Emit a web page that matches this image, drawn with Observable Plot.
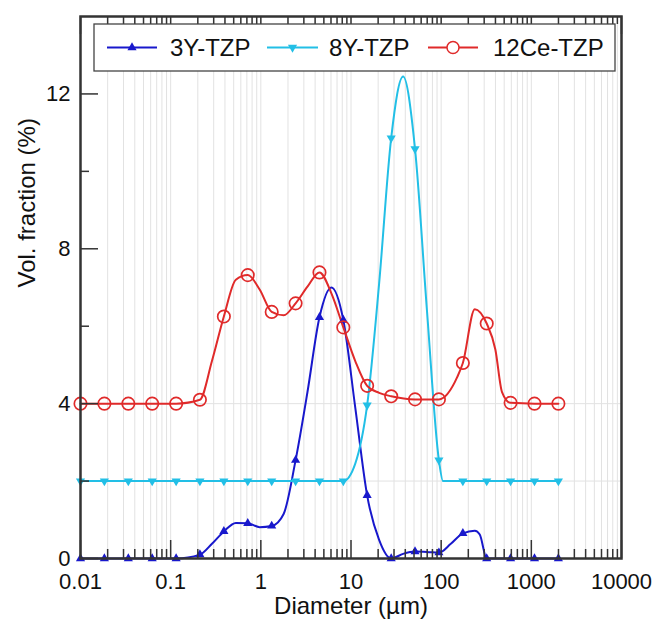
<!DOCTYPE html>
<html><head><meta charset="utf-8">
<script src="https://cdn.jsdelivr.net/npm/d3@7"></script>
<script src="https://cdn.jsdelivr.net/npm/@observablehq/plot@0.6"></script>
<style>
html,body{margin:0;padding:0;background:#fff;}
#chart{width:656px;height:621px;position:relative;}
</style></head><body><div id="chart"></div>
<script>
// ---- data ----
const seriesNames = ["3Y-TZP", "8Y-TZP", "12Ce-TZP"];
const diameters = [0.01, 0.0184, 0.0339, 0.0624, 0.115, 0.211, 0.389, 0.716, 1.32, 2.43, 4.47, 8.22, 15.1, 27.9, 51.3, 94.4, 174, 320, 589, 1084, 1995];
const y3Y   = [0, 0, 0, 0, 0, 0.1, 0.70, 0.91, 0.84, 2.54, 6.23, 6.16, 1.63, 0.0, 0.18, 0.15, 0.65, 0.0, 0, 0, 0];
const y8Y   = [2, 2, 2, 2, 2, 2, 2, 2, 2, 2, 2, 2, 3.96, 10.86, 10.58, 2.54, 2, 2, 2, 2, 2];
const y12Ce = [4, 4, 4, 4, 4, 4.1, 6.25, 7.32, 6.37, 6.59, 7.39, 5.97, 4.46, 4.19, 4.11, 4.11, 5.05, 6.07, 4.02, 4, 4];
// extra points on the drawn curves between the markers
const curve3Yx   = [0.287, 0.528, 0.97, 1.79, 3.29, 6.06, 11.15, 20.5, 37.8, 69.6, 128, 236, 268];
const curve3Yy   = [0.38, 0.92, 0.81, 1.15, 4.3, 7.0, 3.9, 0.48, 0.12, 0.17, 0.38, 0.72, 0.62];
const curve8Yx   = [11.15, 20.5, 37.8, 69.6, 105];
const curve8Yy   = [2.45, 7.1, 12.45, 6.4, 2.0];
const curve12Cex = [0.287, 0.528, 0.97, 1.79, 3.29, 6.06, 11.15, 20.5, 151, 236, 399, 473];
const curve12Cey = [5.1, 7.2, 6.95, 6.28, 7.02, 6.85, 5.1, 4.28, 4.69, 6.44, 5.4, 4.3];
// axes
const xMajor = [0.01, 0.1, 1, 10, 100, 1000, 10000];
const xTickLabels = ["0.01", "0.1", "1", "10", "100", "1000", "10000"];
const xMinorSteps = [2, 3, 4, 5, 6, 7, 8, 9];
const yMajor = [0, 4, 8, 12];
const yTickLabels = ["0", "4", "8", "12"];
const yMinor = [2, 6, 10];
const yGrid = [2, 4];
const xTitle = "Diameter (µm)";
const yTitle = "Vol. fraction (%)";

// ---- layout / style ----
const W = 656, H = 621, mL = 80, mR = 35, mT = 16, mB = 63;
const plotW = W - mL - mR, plotH = H - mT - mB;
const FONT = "'Liberation Sans', Arial, Helvetica, sans-serif";
const C3 = "#1818cc", C8 = "#22bfe6", C12 = "#e02a2a", AX = "#333";

const xMinor = xMajor.slice(0, -1).flatMap(d => xMinorSteps.map(k => d * k));
const xGrid = xMajor.concat(xMinor);

const pts = (name, xs, ys) => xs.map((x, i) => ({name, x, y: ys[i]}));
const m3Y = pts(seriesNames[0], diameters, y3Y);
const m8Y = pts(seriesNames[1], diameters, y8Y);
const m12 = pts(seriesNames[2], diameters, y12Ce);
const l3Y = m3Y.concat(pts(seriesNames[0], curve3Yx, curve3Yy)).sort((a, b) => a.x - b.x);
const l8Y = m8Y.concat(pts(seriesNames[1], curve8Yx, curve8Yy)).sort((a, b) => a.x - b.x);
const l12 = m12.concat(pts(seriesNames[2], curve12Cex, curve12Cey)).sort((a, b) => a.x - b.x);

const s3 = Math.sqrt(3);
const triUp = {draw(ctx, size) { const y = Math.sqrt(size / (s3 * 3)); ctx.moveTo(0, -2 * y); ctx.lineTo(s3 * y, y); ctx.lineTo(-s3 * y, y); ctx.closePath(); }};
const triDown = {draw(ctx, size) { const y = Math.sqrt(size / (s3 * 3)); ctx.moveTo(0, 2 * y); ctx.lineTo(s3 * y, -y); ctx.lineTo(-s3 * y, -y); ctx.closePath(); }};

const chart = Plot.plot({
  width: W, height: H,
  marginLeft: mL, marginRight: mR, marginTop: mT, marginBottom: mB,
  style: {fontFamily: FONT, background: "#fff", overflow: "visible", color: "#111"},
  x: {type: "log", domain: [0.01, 10000], axis: null},
  y: {domain: [0, 14], axis: null},
  marks: [
    Plot.ruleX(xGrid, {x: d => d, stroke: "#e2e2e2", strokeWidth: 1}),
    Plot.ruleY(yGrid, {y: d => d, stroke: "#e2e2e2", strokeWidth: 1}),
    Plot.line(l3Y, {x: "x", y: "y", stroke: C3, strokeWidth: 2, curve: "monotone-x"}),
    Plot.line(l8Y, {x: "x", y: "y", stroke: C8, strokeWidth: 2, curve: "monotone-x"}),
    Plot.line(l12, {x: "x", y: "y", stroke: C12, strokeWidth: 2, curve: "monotone-x"}),
    Plot.dot(m3Y, {x: "x", y: "y", symbol: triUp, r: 3.4, fill: C3, stroke: "none"}),
    Plot.dot(m8Y, {x: "x", y: "y", symbol: triDown, r: 3.4, fill: C8, stroke: "none"}),
    Plot.dot(m12, {x: "x", y: "y", r: 6.2, fill: "none", stroke: C12, strokeWidth: 1.7}),
    // inward ticks
    Plot.ruleX(xMajor, {x: d => d, stroke: AX, strokeWidth: 1.5, insetTop: plotH - 18}),
    Plot.ruleX(xMinor, {x: d => d, stroke: AX, strokeWidth: 1.5, insetTop: plotH - 9}),
    Plot.ruleX(xMajor, {x: d => d, stroke: AX, strokeWidth: 1.5, insetBottom: plotH - 18}),
    Plot.ruleX(xMinor, {x: d => d, stroke: AX, strokeWidth: 1.5, insetBottom: plotH - 8}),
    Plot.ruleY(yMajor, {y: d => d, stroke: AX, strokeWidth: 1.5, insetRight: plotW - 18}),
    Plot.ruleY(yMinor, {y: d => d, stroke: AX, strokeWidth: 1.5, insetRight: plotW - 9}),
    Plot.frame({stroke: AX, strokeWidth: 2.5}),
    // tick labels
    Plot.text(xMajor, {x: d => d, frameAnchor: "bottom", dy: 15, lineAnchor: "top", text: (d, i) => xTickLabels[i], fontSize: 22, fill: "#111"}),
    Plot.text(yMajor, {y: d => d, frameAnchor: "left", dx: -10, textAnchor: "end", text: (d, i) => yTickLabels[i], fontSize: 22, fill: "#111"}),
    // titles
    Plot.text([xTitle], {frameAnchor: "bottom", dy: 48, lineAnchor: "middle", text: d => d, fontSize: 24, fill: "#111"}),
    Plot.text([yTitle], {frameAnchor: "left", dx: -53, rotate: -90, lineAnchor: "middle", text: d => d, fontSize: 24, fill: "#111"})
  ]
});
document.getElementById("chart").appendChild(chart);

// ---- legend (inside the plot, top) ----
const svg = d3.select(chart);
const lg = svg.append("g").attr("font-family", FONT).attr("font-size", 24).attr("fill", "#111").attr("text-anchor", "start");
lg.append("rect").attr("x", 94).attr("y", 24).attr("width", 521).attr("height", 47)
  .attr("fill", "#fff").attr("stroke", "#444").attr("stroke-width", 1.3);
const items = [
  {name: seriesNames[0], color: C3, x1: 107, x2: 157, tx: 170, sym: triUp, fill: C3, size: Math.PI * 3.4 * 3.4},
  {name: seriesNames[1], color: C8, x1: 267, x2: 318, tx: 329, sym: triDown, fill: C8, size: Math.PI * 3.4 * 3.4},
  {name: seriesNames[2], color: C12, x1: 428, x2: 478, tx: 493, sym: d3.symbolCircle, fill: "#fff", size: Math.PI * 36}
];
const ly = 47.5;
for (const it of items) {
  lg.append("line").attr("x1", it.x1).attr("x2", it.x2).attr("y1", ly).attr("y2", ly)
    .attr("stroke", it.color).attr("stroke-width", 2);
  lg.append("path").attr("d", d3.symbol(it.sym, it.size)())
    .attr("transform", `translate(${(it.x1 + it.x2) / 2},${ly})`)
    .attr("fill", it.fill).attr("stroke", it.sym === d3.symbolCircle ? it.color : "none").attr("stroke-width", 1.5);
  lg.append("text").attr("x", it.tx).attr("y", ly + 8.5).attr("text-anchor", "start").text(it.name);
}
</script></body></html>
